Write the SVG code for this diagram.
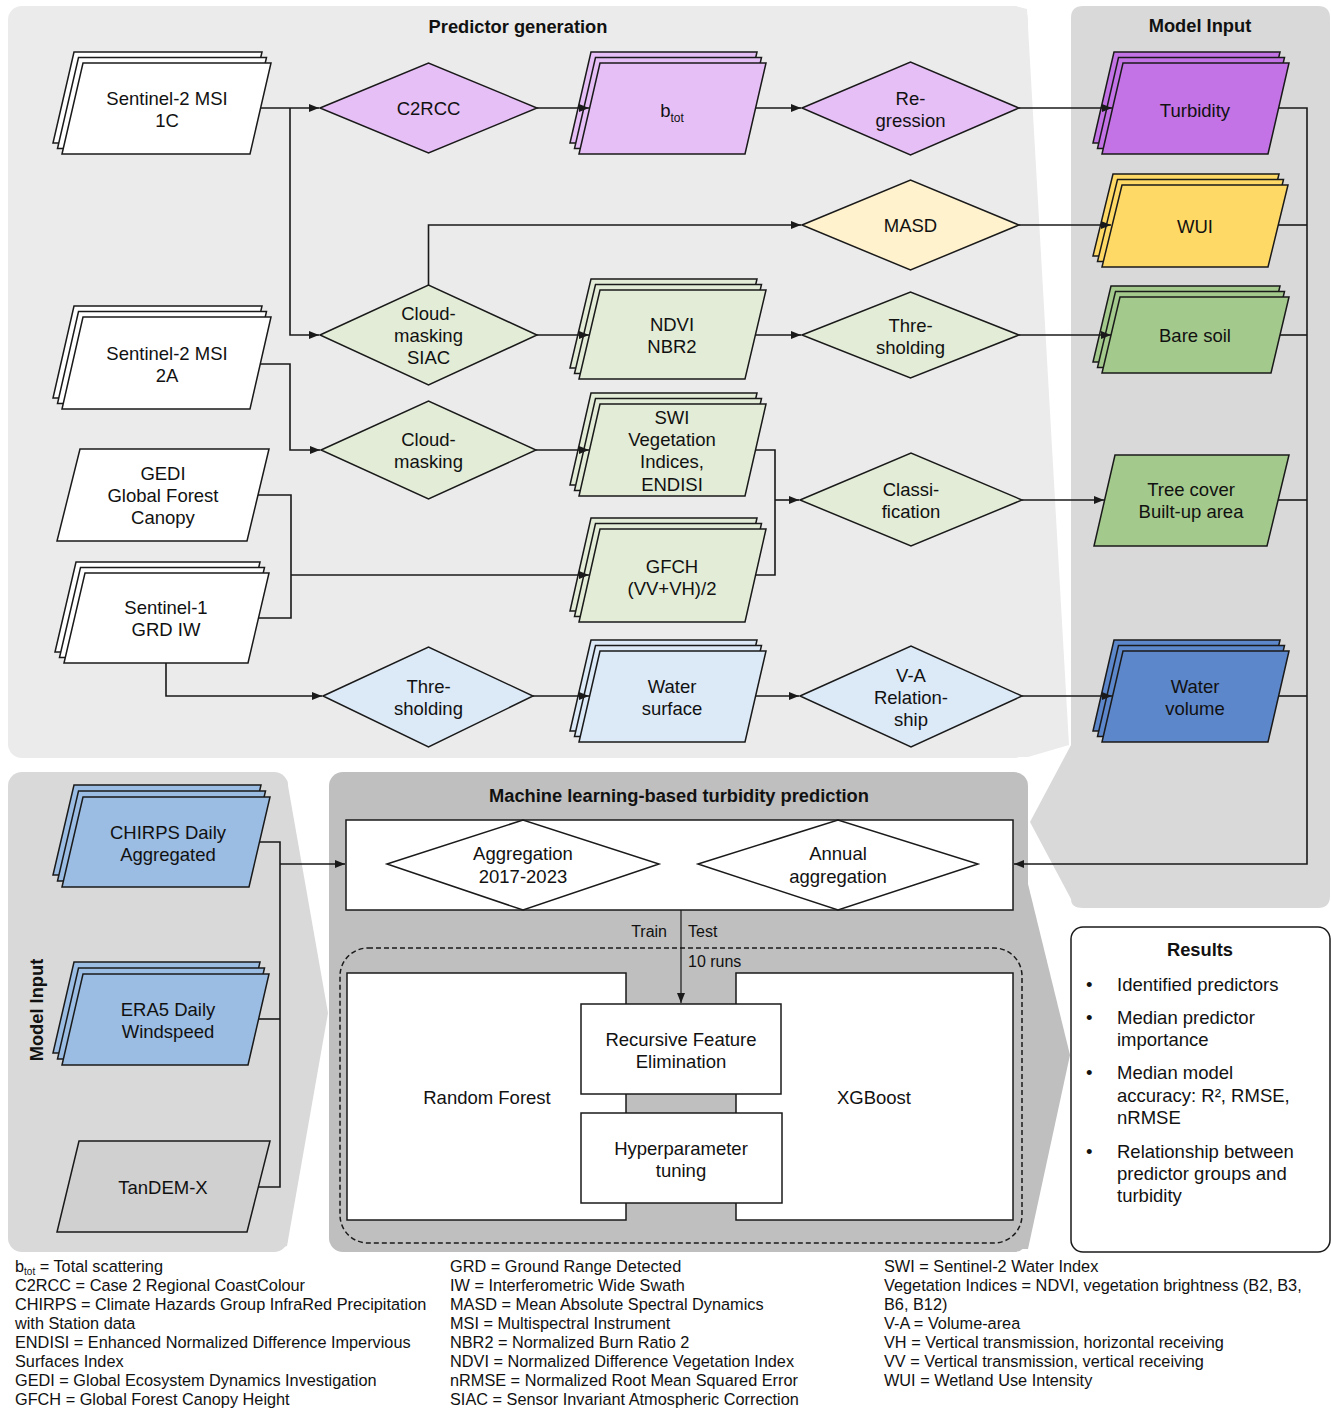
<svg xmlns="http://www.w3.org/2000/svg" width="1331" height="1410" viewBox="0 0 1331 1410">
<defs>
<style>
text{font-family:"Liberation Sans",Arial,sans-serif;fill:#111}
.t{font-size:18.5px;text-anchor:middle}
.ttl{font-size:18.3px;font-weight:bold;text-anchor:middle}
.leg{font-size:16.3px}
.sm{font-size:16px}
.sh polygon,.sh rect{stroke:#1a1a1a;stroke-width:1.5}
.conn path{fill:none;stroke:#1a1a1a;stroke-width:1.6}
.white polygon,.white rect{fill:#ffffff}
.pl polygon{fill:#e6bff6}
.pd polygon{fill:#c373e5}
.yl polygon{fill:#fff2cc}
.yd polygon{fill:#ffd966}
.gl polygon{fill:#e2ecd6}
.gd polygon{fill:#a4c98c}
.bl polygon{fill:#dce9f7}
.bd polygon{fill:#5d87cb}
.bm polygon{fill:#9bbde3}
.gr polygon{fill:#d0d0d0}
</style>
<marker id="ah" markerWidth="10" markerHeight="8" refX="10" refY="4" orient="auto" markerUnits="userSpaceOnUse">
<path d="M0,0 L10,4 L0,8 z" fill="#1a1a1a"/>
</marker>
</defs>

<g id="panels">
<rect x="8" y="6" width="1020" height="752" rx="14" fill="#ebebeb"/>
<polygon points="1015,6 1027,9 1069,745 1028,757 1015,757" fill="#ebebeb"/>
<path d="M1083,6 L1318,6 Q1330,6 1330,18 L1330,896 Q1330,908 1318,908 L1083,908 Q1071,908 1071,899 L1030,822 L1071,745 L1071,18 Q1071,6 1083,6 Z" fill="#d9d9d9"/>
<rect x="8" y="772" width="280" height="480" rx="14" fill="#d9d9d9"/>
<polygon points="280,778 287,780 328,1013 287,1246 280,1248" fill="#d9d9d9"/>
<rect x="329" y="772" width="699" height="480" rx="14" fill="#bfbfbf"/>
<polygon points="1015,884 1028,884 1070,1055 1028,1249 1015,1249" fill="#bfbfbf"/>
<rect x="1071" y="927" width="259" height="325" rx="12" fill="#ffffff" stroke="#1a1a1a" stroke-width="1.5"/>
<text class="ttl" x="518" y="33">Predictor generation</text>
<text class="ttl" x="1200" y="32">Model Input</text>
<text class="ttl" x="679" y="802">Machine learning-based turbidity prediction</text>
<text class="ttl" transform="translate(43,1010) rotate(-90)">Model Input</text>
</g>

<g id="results">
<text class="ttl" x="1200" y="955.5">Results</text>
<g class="t" style="text-anchor:start">
<text x="1086" y="991">•</text><text x="1117" y="991">Identified predictors</text>
<text x="1086" y="1024">•</text><text x="1117" y="1024">Median predictor</text><text x="1117" y="1046">importance</text>
<text x="1086" y="1079">•</text><text x="1117" y="1079">Median model</text><text x="1117" y="1102">accuracy: R², RMSE,</text><text x="1117" y="1124">nRMSE</text>
<text x="1086" y="1158">•</text><text x="1117" y="1158">Relationship between</text><text x="1117" y="1180">predictor groups and</text><text x="1117" y="1202">turbidity</text>
</g>
</g>

<!-- Column 1 inputs -->
<g id="s2_1c" class="sh white">
<polygon transform="translate(-9,-11)" points="83,63 271,63 250,154 62,154"/>
<polygon transform="translate(-4.5,-5.5)" points="83,63 271,63 250,154 62,154"/>
<polygon points="83,63 271,63 250,154 62,154"/>
<text class="t" x="167" y="104.5">Sentinel-2 MSI</text><text class="t" x="167" y="126.5">1C</text>
</g>
<g id="s2_2a" class="sh white">
<polygon transform="translate(-9,-11)" points="83,317 271,317 250,409 62,409"/>
<polygon transform="translate(-4.5,-5.5)" points="83,317 271,317 250,409 62,409"/>
<polygon points="83,317 271,317 250,409 62,409"/>
<text class="t" x="167" y="359.5">Sentinel-2 MSI</text><text class="t" x="167" y="381.5">2A</text>
</g>
<g id="gedi" class="sh white">
<polygon points="80,449 269,449 247,541 57,541"/>
<text class="t" x="163" y="479.5">GEDI</text><text class="t" x="163" y="501.5">Global Forest</text><text class="t" x="163" y="524">Canopy</text>
</g>
<g id="s1" class="sh white">
<polygon transform="translate(-9,-11)" points="85,573 269,573 248,663 64,663"/>
<polygon transform="translate(-4.5,-5.5)" points="85,573 269,573 248,663 64,663"/>
<polygon points="85,573 269,573 248,663 64,663"/>
<text class="t" x="166" y="613.5">Sentinel-1</text><text class="t" x="166" y="635.5">GRD IW</text>
</g>

<!-- Column 2 diamonds -->
<g id="c2rcc" class="sh pl"><polygon points="320,108 428.5,63 537,108 428.5,153"/><text class="t" x="428.5" y="114.5">C2RCC</text></g>
<g id="siac" class="sh gl"><polygon points="320,335 428.5,285 537,335 428.5,385"/><text class="t" x="428.5" y="319.5">Cloud-</text><text class="t" x="428.5" y="341.5">masking</text><text class="t" x="428.5" y="363.5">SIAC</text></g>
<g id="cloudmask" class="sh gl"><polygon points="321,450 428.5,401 536,450 428.5,499"/><text class="t" x="428.5" y="445.5">Cloud-</text><text class="t" x="428.5" y="467.5">masking</text></g>
<g id="thresh_b" class="sh bl"><polygon points="323,696 428.5,647 533,696 428.5,747"/><text class="t" x="428.5" y="692.5">Thre-</text><text class="t" x="428.5" y="714.5">sholding</text></g>

<!-- Column 3 -->
<g id="btot" class="sh pl">
<polygon transform="translate(-9,-11)" points="600,63 766,63 745,154 579,154"/>
<polygon transform="translate(-4.5,-5.5)" points="600,63 766,63 745,154 579,154"/>
<polygon points="600,63 766,63 745,154 579,154"/>
<text class="t" x="672" y="116.5">b<tspan dy="5" style="font-size:12px">tot</tspan></text>
</g>
<g id="ndvi" class="sh gl">
<polygon transform="translate(-9,-11)" points="600,290 766,290 745,379 579,379"/>
<polygon transform="translate(-4.5,-5.5)" points="600,290 766,290 745,379 579,379"/>
<polygon points="600,290 766,290 745,379 579,379"/>
<text class="t" x="672" y="330.5">NDVI</text><text class="t" x="672" y="352.5">NBR2</text>
</g>
<g id="swi" class="sh gl">
<polygon transform="translate(-9,-11)" points="600,404 766,404 745,496 579,496"/>
<polygon transform="translate(-4.5,-5.5)" points="600,404 766,404 745,496 579,496"/>
<polygon points="600,404 766,404 745,496 579,496"/>
<text class="t" x="672" y="423.5">SWI</text><text class="t" x="672" y="446">Vegetation</text><text class="t" x="672" y="468">Indices,</text><text class="t" x="672" y="490.5">ENDISI</text>
</g>
<g id="gfch" class="sh gl">
<polygon transform="translate(-9,-11)" points="600,529 766,529 745,622 579,622"/>
<polygon transform="translate(-4.5,-5.5)" points="600,529 766,529 745,622 579,622"/>
<polygon points="600,529 766,529 745,622 579,622"/>
<text class="t" x="672" y="572.5">GFCH</text><text class="t" x="672" y="594.5">(VV+VH)/2</text>
</g>
<g id="watersurf" class="sh bl">
<polygon transform="translate(-9,-11)" points="600,651 766,651 745,742 579,742"/>
<polygon transform="translate(-4.5,-5.5)" points="600,651 766,651 745,742 579,742"/>
<polygon points="600,651 766,651 745,742 579,742"/>
<text class="t" x="672" y="692.5">Water</text><text class="t" x="672" y="714.5">surface</text>
</g>

<!-- Column 4 diamonds -->
<g id="regression" class="sh pl"><polygon points="802,108 910.5,62 1019,108 910.5,155"/><text class="t" x="910.5" y="104.5">Re-</text><text class="t" x="910.5" y="126.5">gression</text></g>
<g id="masd" class="sh yl"><polygon points="802,225 910.5,180 1019,225 910.5,270"/><text class="t" x="910.5" y="231.5">MASD</text></g>
<g id="thresh_g" class="sh gl"><polygon points="802,335 910.5,292 1019,335 910.5,378"/><text class="t" x="910.5" y="331.5">Thre-</text><text class="t" x="910.5" y="353.5">sholding</text></g>
<g id="classif" class="sh gl"><polygon points="800,500 911,453 1022,500 911,546"/><text class="t" x="911" y="495.5">Classi-</text><text class="t" x="911" y="517.5">fication</text></g>
<g id="va" class="sh bl"><polygon points="800,696 911,646 1022,696 911,747"/><text class="t" x="911" y="681.5">V-A</text><text class="t" x="911" y="703.5">Relation-</text><text class="t" x="911" y="725.5">ship</text></g>

<!-- Column 5 model input -->
<g id="turbidity" class="sh pd">
<polygon transform="translate(-9,-11)" points="1123,63 1289,63 1268,154 1102,154"/>
<polygon transform="translate(-4.5,-5.5)" points="1123,63 1289,63 1268,154 1102,154"/>
<polygon points="1123,63 1289,63 1268,154 1102,154"/>
<text class="t" x="1195" y="116.5">Turbidity</text>
</g>
<g id="wui" class="sh yd">
<polygon transform="translate(-9,-11)" points="1122,185 1288,185 1268,267 1102,267"/>
<polygon transform="translate(-4.5,-5.5)" points="1122,185 1288,185 1268,267 1102,267"/>
<polygon points="1122,185 1288,185 1268,267 1102,267"/>
<text class="t" x="1195" y="232.5">WUI</text>
</g>
<g id="baresoil" class="sh gd">
<polygon transform="translate(-9,-11)" points="1120,297 1289,297 1271,373 1102,373"/>
<polygon transform="translate(-4.5,-5.5)" points="1120,297 1289,297 1271,373 1102,373"/>
<polygon points="1120,297 1289,297 1271,373 1102,373"/>
<text class="t" x="1195" y="341.5">Bare soil</text>
</g>
<g id="treecover" class="sh gd">
<polygon points="1115,455 1289,455 1267,546 1094,546"/>
<text class="t" x="1191" y="495.5">Tree cover</text><text class="t" x="1191" y="517.5">Built-up area</text>
</g>
<g id="watervol" class="sh bd">
<polygon transform="translate(-9,-11)" points="1123,651 1289,651 1268,742 1102,742"/>
<polygon transform="translate(-4.5,-5.5)" points="1123,651 1289,651 1268,742 1102,742"/>
<polygon points="1123,651 1289,651 1268,742 1102,742"/>
<text class="t" x="1195" y="692.5">Water</text><text class="t" x="1195" y="714.5">volume</text>
</g>

<!-- Lower-left model input -->
<g id="chirps" class="sh bm">
<polygon transform="translate(-9,-12)" points="83,797 270,797 249,887 62,887"/>
<polygon transform="translate(-4.5,-6)" points="83,797 270,797 249,887 62,887"/>
<polygon points="83,797 270,797 249,887 62,887"/>
<text class="t" x="168" y="838.5">CHIRPS Daily</text><text class="t" x="168" y="860.5">Aggregated</text>
</g>
<g id="era5" class="sh bm">
<polygon transform="translate(-9,-12)" points="83,974 269,974 248,1065 62,1065"/>
<polygon transform="translate(-4.5,-6)" points="83,974 269,974 248,1065 62,1065"/>
<polygon points="83,974 269,974 248,1065 62,1065"/>
<text class="t" x="168" y="1015.5">ERA5 Daily</text><text class="t" x="168" y="1037.5">Windspeed</text>
</g>
<g id="tandem" class="sh gr">
<polygon points="79,1141 270,1141 247,1232 57,1232"/>
<text class="t" x="163" y="1193.5">TanDEM-X</text>
</g>

<!-- ML panel content -->
<g id="aggbox" class="sh white">
<rect x="346" y="820" width="667" height="90"/>
<polygon points="387,864 523,820 659,864 523,910"/>
<polygon points="698,864 838,820 978,864 838,910"/>
<text class="t" x="523" y="859.5">Aggregation</text><text class="t" x="523" y="882.5">2017-2023</text>
<text class="t" x="838" y="859.5">Annual</text><text class="t" x="838" y="882.5">aggregation</text>
</g>
<rect id="runs" x="340" y="948" width="682" height="295" rx="28" fill="none" stroke="#1a1a1a" stroke-width="1.5" stroke-dasharray="5,3"/>
<g id="rf" class="sh white"><rect x="347" y="973" width="279" height="247"/><text class="t" x="487" y="1103.5">Random Forest</text></g>
<g id="xgb" class="sh white"><rect x="736" y="973" width="277" height="247"/><text class="t" x="874" y="1103.5">XGBoost</text></g>
<g id="rfe" class="sh white"><rect x="581" y="1004" width="200" height="90"/><text class="t" x="681" y="1045.5">Recursive Feature</text><text class="t" x="681" y="1067.5">Elimination</text></g>
<g id="hp" class="sh white"><rect x="581" y="1113" width="201" height="90"/><text class="t" x="681" y="1154.5">Hyperparameter</text><text class="t" x="681" y="1176.5">tuning</text></g>
<text class="sm" x="667" y="937" text-anchor="end">Train</text>
<text class="sm" x="688" y="937">Test</text>
<text class="sm" x="688" y="967">10 runs</text>

<g id="connectors" class="conn">
<path d="M261,108 H319" marker-end="url(#ah)"/>
<path d="M290,108 V335 H319" marker-end="url(#ah)"/>
<path d="M260,364 H290 V450 H320" marker-end="url(#ah)"/>
<path d="M258,495 H291 V618 H258"/>
<path d="M291,575 H589" marker-end="url(#ah)"/>
<path d="M166,663 V696 H322" marker-end="url(#ah)"/>
<path d="M537,108 H589" marker-end="url(#ah)"/>
<path d="M537,335 H589" marker-end="url(#ah)"/>
<path d="M536,450 H589" marker-end="url(#ah)"/>
<path d="M533,696 H589" marker-end="url(#ah)"/>
<path d="M428.5,285 V225 H801" marker-end="url(#ah)"/>
<path d="M756,108 H801" marker-end="url(#ah)"/>
<path d="M755,335 H801" marker-end="url(#ah)"/>
<path d="M755,450 H775 V575 H755"/>
<path d="M775,500 H799" marker-end="url(#ah)"/>
<path d="M756,696 H799" marker-end="url(#ah)"/>
<path d="M1019,108 H1112" marker-end="url(#ah)"/>
<path d="M1019,225 H1111" marker-end="url(#ah)"/>
<path d="M1019,335 H1111" marker-end="url(#ah)"/>
<path d="M1022,500 H1104" marker-end="url(#ah)"/>
<path d="M1022,696 H1112" marker-end="url(#ah)"/>
<path d="M1279,108 H1307 V864 H1014" marker-end="url(#ah)"/>
<path d="M1278,225 H1307"/>
<path d="M1280,335 H1307"/>
<path d="M1278,500 H1307"/>
<path d="M1279,696 H1307"/>
<path d="M259,842 H280 V1187 H258"/>
<path d="M258,1019 H280"/>
<path d="M280,864 H345" marker-end="url(#ah)"/>
<path d="M681,910 V1003" marker-end="url(#ah)" style="stroke-width:1.2"/>
</g>

<g id="legend" class="leg">
<text x="15" y="1272">b<tspan dy="3" style="font-size:10px">tot</tspan><tspan dy="-3"> = Total scattering</tspan></text>
<text x="15" y="1291">C2RCC = Case 2 Regional CoastColour</text>
<text x="15" y="1310">CHIRPS = Climate Hazards Group InfraRed Precipitation</text>
<text x="15" y="1329">with Station data</text>
<text x="15" y="1348">ENDISI = Enhanced Normalized Difference Impervious</text>
<text x="15" y="1367">Surfaces Index</text>
<text x="15" y="1386">GEDI = Global Ecosystem Dynamics Investigation</text>
<text x="15" y="1405">GFCH = Global Forest Canopy Height</text>
<text x="450" y="1272">GRD = Ground Range Detected</text>
<text x="450" y="1291">IW = Interferometric Wide Swath</text>
<text x="450" y="1310">MASD = Mean Absolute Spectral Dynamics</text>
<text x="450" y="1329">MSI = Multispectral Instrument</text>
<text x="450" y="1348">NBR2 = Normalized Burn Ratio 2</text>
<text x="450" y="1367">NDVI = Normalized Difference Vegetation Index</text>
<text x="450" y="1386">nRMSE = Normalized Root Mean Squared Error</text>
<text x="450" y="1405">SIAC = Sensor Invariant Atmospheric Correction</text>
<text x="884" y="1272">SWI = Sentinel-2 Water Index</text>
<text x="884" y="1291">Vegetation Indices = NDVI, vegetation brightness (B2, B3,</text>
<text x="884" y="1310">B6, B12)</text>
<text x="884" y="1329">V-A = Volume-area</text>
<text x="884" y="1348">VH = Vertical transmission, horizontal receiving</text>
<text x="884" y="1367">VV = Vertical transmission, vertical receiving</text>
<text x="884" y="1386">WUI = Wetland Use Intensity</text>
</g>
</svg>
